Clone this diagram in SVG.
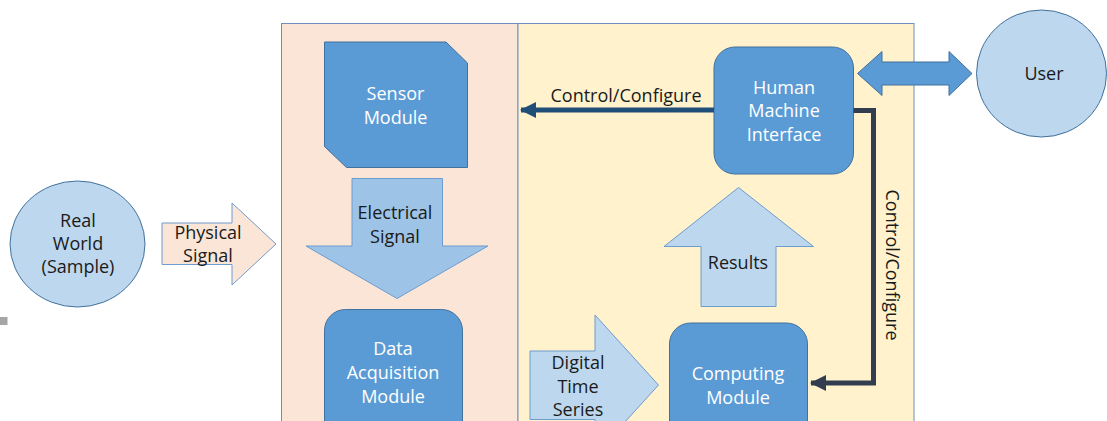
<svg xmlns="http://www.w3.org/2000/svg" width="1107" height="421" viewBox="0 0 1107 421">
  <defs>
    <style>
      .lbl { font-family: "Open Sans", "Liberation Sans", sans-serif; font-size: 18px; text-anchor: middle; fill: #1a1a1a; }
      .lbl-w { font-family: "Open Sans", "Liberation Sans", sans-serif; font-size: 18px; text-anchor: middle; fill: #ffffff; }
      .panel { stroke: #6f8fbb; stroke-width: 1; }
      .module { fill: #5b9bd5; stroke: #41719c; stroke-width: 1; }
      .bubble { fill: #bdd7ee; stroke: #41719c; stroke-width: 1; }
      .flow-light { fill: #bdd7ee; stroke: #6d9ccf; stroke-width: 1; }
      .flow-mid { fill: #9dc3e6; stroke: #6d9ccf; stroke-width: 1; }
      .flow-peach { fill: #fbe5d6; stroke: #6d9ccf; stroke-width: 1; }
    </style>
    <marker id="head-blue" viewBox="0 0 16 16" refX="15" refY="8" markerWidth="16" markerHeight="16" markerUnits="userSpaceOnUse" orient="auto">
      <path d="M0,0 L16,8 L0,16 Z" fill="#1f4e79"/>
    </marker>
    <marker id="head-slate" viewBox="0 0 16 16" refX="15" refY="8" markerWidth="16" markerHeight="16" markerUnits="userSpaceOnUse" orient="auto">
      <path d="M0,0 L16,8 L0,16 Z" fill="#323e4f"/>
    </marker>
  </defs>

  <rect width="1107" height="421" fill="#ffffff"/>

  <!-- background panels -->
  <g id="panel-acquisition">
    <rect class="panel" x="281.5" y="23.5" width="236.5" height="420" fill="#fbe5d6"/>
  </g>
  <g id="panel-processing">
    <rect class="panel" x="518" y="23.5" width="396" height="420" fill="#fff2cc"/>
  </g>

  <!-- small grey tick at the left edge -->
  <rect x="0" y="317" width="7.5" height="8" fill="#a6a6a6"/>

  <g id="real-world">
    <ellipse class="bubble" cx="77.5" cy="244" rx="67.5" ry="63"/>
    <text class="lbl" x="78" y="226.5">Real</text>
    <text class="lbl" x="78" y="250">World</text>
    <text class="lbl" x="78" y="273">(Sample)</text>
  </g>

  <g id="physical-signal">
    <path class="flow-peach" d="M162,223 L232,223 L232,203 L276,244 L232,285 L232,264.5 L162,264.5 Z"/>
    <text class="lbl" x="208" y="239">Physical</text>
    <text class="lbl" x="208" y="262">Signal</text>
  </g>

  <g id="sensor-module">
    <path class="module" d="M324.5,42 L446,42 L467.5,63 L467.5,167.5 L346.5,167.5 L324.5,146.5 Z"/>
    <text class="lbl-w" x="395.5" y="100">Sensor</text>
    <text class="lbl-w" x="395.5" y="123.5">Module</text>
  </g>

  <g id="electrical-signal">
    <path class="flow-mid" d="M352,178.5 L442.5,178.5 L442.5,246 L488,246 L397,298.5 L306,246 L352,246 Z"/>
    <text class="lbl" x="395" y="218.5">Electrical</text>
    <text class="lbl" x="395" y="242.5">Signal</text>
  </g>

  <g id="data-acquisition">
    <rect class="module" x="324.5" y="309.5" width="138" height="160" rx="21" ry="21"/>
    <text class="lbl-w" x="393" y="355">Data</text>
    <text class="lbl-w" x="393" y="379">Acquisition</text>
    <text class="lbl-w" x="393" y="402.5">Module</text>
  </g>

  <g id="hmi">
    <rect class="module" x="714" y="47" width="139.5" height="127" rx="21" ry="21"/>
    <text class="lbl-w" x="784" y="93.5">Human</text>
    <text class="lbl-w" x="784" y="117">Machine</text>
    <text class="lbl-w" x="784" y="140.5">Interface</text>
  </g>

  <g id="results">
    <path class="flow-light" d="M738.5,187.5 L813.5,246.5 L776,246.5 L776,306.5 L701,306.5 L701,246.5 L664,246.5 Z"/>
    <text class="lbl" x="738" y="268.5">Results</text>
  </g>

  <g id="digital-time-series">
    <path class="flow-light" d="M530,351 L595,351 L595,315 L658.5,385 L595,455 L595,419.5 L530,419.5 Z"/>
    <text class="lbl" x="578" y="368.5">Digital</text>
    <text class="lbl" x="578" y="392.5">Time</text>
    <text class="lbl" x="578" y="416">Series</text>
  </g>

  <g id="computing-module">
    <rect class="module" x="669.5" y="323" width="138" height="150" rx="21" ry="21"/>
    <text class="lbl-w" x="738" y="380">Computing</text>
    <text class="lbl-w" x="738" y="404">Module</text>
  </g>

  <g id="user-link">
    <path class="module" d="M857.5,73.5 L882,51.5 L882,62 L949,62 L949,51.5 L972,73.5 L949,95.5 L949,85 L882,85 L882,95.5 Z"/>
  </g>

  <g id="user">
    <ellipse class="bubble" cx="1041.5" cy="73.5" rx="65" ry="63.5"/>
    <text class="lbl" x="1044" y="80">User</text>
  </g>

  <!-- connectors -->
  <g id="connectors" fill="none" stroke-width="5">
    <path d="M714,110 L521,110" stroke="#1f4e79" marker-end="url(#head-blue)"/>
    <path d="M853.5,110.5 L873.5,110.5 L873.5,383 L811,383" stroke="#323e4f" stroke-linejoin="miter" marker-end="url(#head-slate)"/>
  </g>

  <g id="connector-labels">
    <text class="lbl" x="626" y="101.5">Control/Configure</text>
    <text class="lbl" x="0" y="0" transform="translate(885.5,265) rotate(90)">Control/Configure</text>
  </g>
</svg>
